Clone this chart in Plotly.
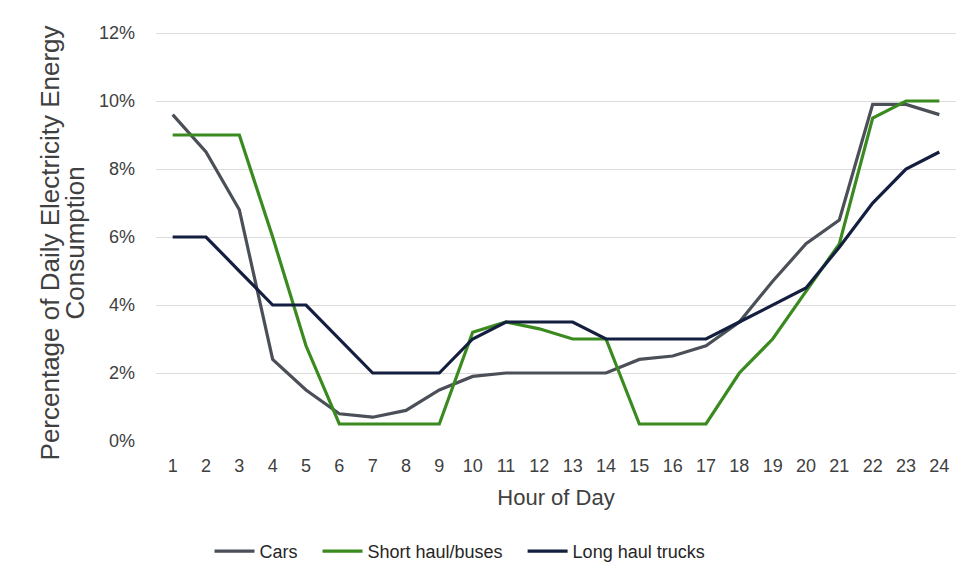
import plotly.graph_objects as go

hours = list(range(1, 25))
hour_labels = [str(h) for h in hours]

cars = [9.6, 8.5, 6.8, 2.4, 1.5, 0.8, 0.7, 0.9, 1.5, 1.9, 2.0, 2.0, 2.0, 2.0, 2.4, 2.5, 2.8, 3.5,
        4.7, 5.8, 6.5, 9.9, 9.9, 9.6]
short_haul = [9.0, 9.0, 9.0, 6.0, 2.8, 0.5, 0.5, 0.5, 0.5, 3.2, 3.5, 3.3, 3.0, 3.0, 0.5, 0.5, 0.5, 2.0,
              3.0, 4.4, 5.8, 9.5, 10.0, 10.0]
long_haul = [6.0, 6.0, 5.0, 4.0, 4.0, 3.0, 2.0, 2.0, 2.0, 3.0, 3.5, 3.5, 3.5, 3.0, 3.0, 3.0, 3.0, 3.5,
             4.0, 4.5, 5.7, 7.0, 8.0, 8.5]

series = [
    ("Cars", cars, "#4b5058"),
    ("Short haul/buses", short_haul, "#3a8a20"),
    ("Long haul trucks", long_haul, "#141f40"),
]

y_ticks = [0, 2, 4, 6, 8, 10, 12]
y_tick_text = [f"{v}%" for v in y_ticks]

font_family = "Liberation Sans, Arial, sans-serif"
NB = "\u00a0"

fig = go.Figure()
for i, (name, vals, color) in enumerate(series):
    label = name + (NB * 3 if i < len(series) - 1 else "")
    fig.add_trace(go.Scatter(
        x=hour_labels, y=vals, name=label, mode="lines",
        line=dict(color=color, width=3.2),
    ))

fig.update_layout(
    width=966, height=578,
    margin=dict(l=148, r=18, t=24, b=145, autoexpand=False),
    paper_bgcolor="white", plot_bgcolor="white",
    font=dict(family=font_family, size=18, color="#404040"),
    showlegend=True,
    legend=dict(orientation="h", x=0.38, xanchor="center", y=-0.27, yanchor="middle",
                font=dict(size=18, color="#262626"), traceorder="normal",
                itemwidth=40),
    xaxis=dict(
        type="category", showgrid=False, zeroline=False, showline=False,
        tickfont=dict(size=18, color="#404040"), ticks="", ticklabelstandoff=12,
        title=dict(text="Hour of Day", font=dict(size=22, color="#404040"), standoff=14),
        range=[-0.5, 23.5], automargin=False,
    ),
    yaxis=dict(
        range=[0, 12.03], tickvals=y_ticks, ticktext=y_tick_text,
        showgrid=True, gridcolor="#dcdcdc", gridwidth=1, zeroline=False, showline=False,
        tickfont=dict(size=18, color="#404040"), ticks="", ticklabelstandoff=20,
        automargin=False,
    ),
    annotations=[
        dict(text="Percentage of Daily Electricity Energy",
             xref="paper", yref="paper", x=(42 - 148) / 800, y=0.483, xanchor="center", yanchor="middle",
             textangle=-90, showarrow=False, font=dict(size=26, color="#404040")),
        dict(text="Consumption",
             xref="paper", yref="paper", x=(67 - 148) / 800, y=0.483, xanchor="center", yanchor="middle",
             textangle=-90, showarrow=False, font=dict(size=26, color="#404040")),
    ],
)

fig.write_html("out.html")
